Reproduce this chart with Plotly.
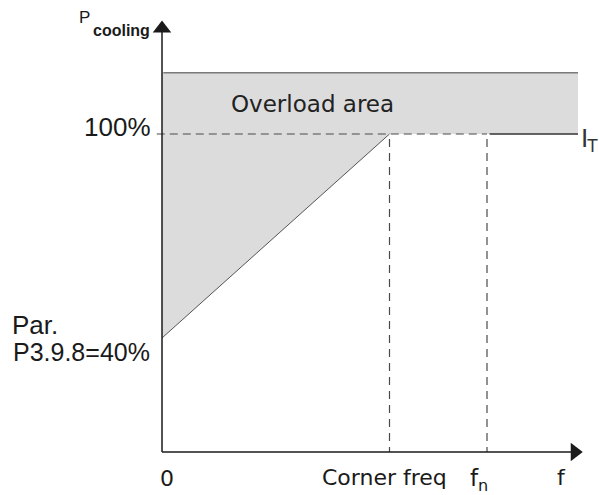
import plotly.graph_objects as go

# Characteristic points (frequency in Hz, cooling power in %)
f_corner = 35
f_nominal = 50
f_end = 64
p_zero_freq = 40          # Par. P3.9.8 = 40%
p_full = 100
p_overload_top = 118
axis_base = 6.5           # level of the frequency axis
axis_top = 131            # level of the power arrow head
f_arrow = 63.5            # frequency of the f-axis arrow head

# Curve of allowed cooling power
curve_f = [0, f_corner]
curve_p = [p_zero_freq, p_full]

# Overload region outline
overload_f = [0, f_end, f_end, f_corner, 0, 0]
overload_p = [p_overload_top, p_overload_top, p_full, p_full, p_zero_freq, p_overload_top]

FONT = "Liberation Sans, Arial, sans-serif"
DV = "DejaVu Sans, sans-serif"
INK = "#1a1a1a"

fig = go.Figure()

# shaded overload area
fig.add_trace(go.Scatter(x=overload_f, y=overload_p, fill="toself", fillcolor="#dcdcdd",
                         mode="lines", line=dict(width=0), hoverinfo="skip"))
# upper boundary of the overload area
fig.add_trace(go.Scatter(x=[0.2, f_end], y=[p_overload_top, p_overload_top], mode="lines",
                         line=dict(color="#7a7a7a", width=1.5), hoverinfo="skip"))
# rising part of the curve
fig.add_trace(go.Scatter(x=curve_f, y=curve_p, mode="lines",
                         line=dict(color="#555555", width=1), hoverinfo="skip"))
# 100% reference (dashed up to f_n)
fig.add_trace(go.Scatter(x=[-0.8, f_nominal], y=[p_full, p_full], mode="lines",
                         line=dict(color="#4a4a4a", width=1.2, dash="8px,5px"), hoverinfo="skip"))
# thermal current level beyond f_n
fig.add_trace(go.Scatter(x=[f_nominal + 0.4, f_end], y=[p_full, p_full], mode="lines",
                         line=dict(color="#333333", width=1.5), hoverinfo="skip"))
# vertical guides at the corner and nominal frequency
for fv in (f_corner, f_nominal):
    fig.add_trace(go.Scatter(x=[fv, fv], y=[p_full - 1.5, axis_base], mode="lines",
                             line=dict(color="#4a4a4a", width=1.2, dash="8px,6px"), hoverinfo="skip"))

# axes
fig.add_trace(go.Scatter(x=[0, 0], y=[axis_base, axis_top], mode="lines",
                         line=dict(color=INK, width=1.5), hoverinfo="skip"))
fig.add_trace(go.Scatter(x=[0, f_arrow], y=[axis_base, axis_base], mode="lines",
                         line=dict(color=INK, width=1.5), hoverinfo="skip"))
fig.add_trace(go.Scatter(x=[0], y=[axis_top], mode="markers",
                         marker=dict(symbol="triangle-up", size=16, color=INK), hoverinfo="skip"))
fig.add_trace(go.Scatter(x=[f_arrow], y=[axis_base], mode="markers",
                         marker=dict(symbol="triangle-right", size=16, color=INK), hoverinfo="skip"))

def label(text, x, y, size, family=FONT, xanchor="center", yanchor="middle", color=INK):
    fig.add_annotation(x=x, y=y, text=text, showarrow=False, xanchor=xanchor, yanchor=yanchor,
                       font=dict(family=family, size=size, color=color))

label("P", -12, 134.2, 17)
label("<b>cooling</b>", -11.0, 130.3, 16, xanchor="left")
label("100%", -1.4, 102, 26, xanchor="right")
label("Overload area", 23.1, 108.8, 23, family=DV, color="#222222")
label("I", 64.2, 98.8, 26, xanchor="left", color="#333333")
label("T", 65.0, 96.4, 18, xanchor="left", color="#333333")
label("Par.", -23.4, 43.8, 26, xanchor="left")
label("P3.9.8=40%", -23.3, 35.9, 25, xanchor="left")
label("0", 0.8, -1.2, 22, family=DV)
label("Corner freq", f_corner - 0.8, -1.0, 22, family=DV)
label("f<sub>n</sub>", f_nominal - 1.3, -1.8, 23, family=DV)
label("f", 61.4, -1.0, 22, family=DV)

fig.update_layout(
    width=599, height=495, margin=dict(l=0, r=0, t=0, b=0),
    paper_bgcolor="white", plot_bgcolor="white", showlegend=False,
    xaxis=dict(range=[-162 / 6.5, 437 / 6.5], visible=False, fixedrange=True),
    yaxis=dict(range=[100 - 361 / 3.4, 100 + 134 / 3.4], visible=False, fixedrange=True),
)

fig.write_html("out.html")
